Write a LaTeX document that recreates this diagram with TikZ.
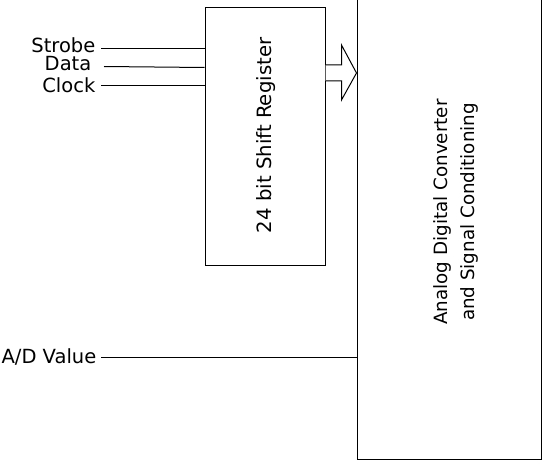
\documentclass[tikz,border=0pt]{standalone}
\usepackage{fontspec}
\setmainfont{DejaVu Sans}
\usetikzlibrary{positioning,calc}
\tikzset{
    blk/.style={draw, line width=1pt, inner sep=0pt},
    sig/.style={font=\fontsize{19.5}{23}\selectfont, inner sep=0pt, anchor=east},
    wire/.style={line width=1pt},
    btext/.style={font=\fontsize{#1}{27}\selectfont, rotate=90, align=center},
}
\begin{document}
\begin{tikzpicture}[x=1pt, y=-1pt]
    \useasboundingbox (0,0) rectangle (542,460);
    \node[blk, minimum width=120pt, minimum height=257pt] (sreg) at (265,136.5) {};
    \node[blk, minimum width=184pt, minimum height=459pt] (adc) at (449,229.5) {};
    \node[btext=19.7] (sregtxt) at (266,135.5) {24 bit Shift Register};
    \node[btext=18.3] (adctxt) at (456,212)
        {Analog Digital Converter\\and Signal Conditioning};
    % inputs
    \node[sig] (strobe) at (95.5,45) {Strobe};
    \node[sig] (data) at (91.5,64) {Data};
    \node[sig] (clock) at (95.5,85) {Clock};
    \node[sig] (advalue) at (96.5,357) {A/D Value};
    \coordinate (strobein) at (101,49);
    \coordinate (datain) at (104,66.5);
    \coordinate (clockin) at (101,86);
    \coordinate (advin) at (101,357);
    \draw[wire] (strobein) -- (strobein -| sreg.west);
    \draw[wire] (datain) -- ($(datain -| sreg.west)+(0,1)$);
    \draw[wire] (clockin) -- (clockin -| sreg.west);
    \draw[wire] (advin) -- (advin -| adc.west);
    % bus arrow
    \coordinate (bus) at (325,73);
    \draw[wire, line join=miter, fill=white]
        ($(bus -| sreg.east)+(0,-8)$) -- ++(16,0) -- ++(0,-20)
        -- (bus -| adc.west) -- ($(bus -| sreg.east)+(16,27)$)
        -- ++(0,-19) -- ($(bus -| sreg.east)+(0,8)$);
\end{tikzpicture}
\end{document}
